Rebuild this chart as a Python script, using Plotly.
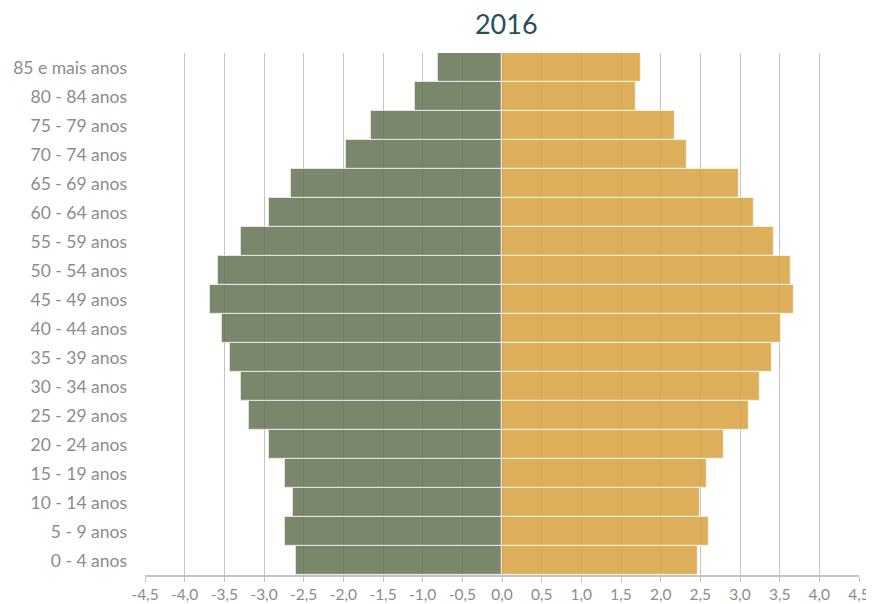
import plotly.graph_objects as go

age_groups = ["0 - 4 anos", "5 - 9 anos", "10 - 14 anos", "15 - 19 anos", "20 - 24 anos",
              "25 - 29 anos", "30 - 34 anos", "35 - 39 anos", "40 - 44 anos", "45 - 49 anos",
              "50 - 54 anos", "55 - 59 anos", "60 - 64 anos", "65 - 69 anos", "70 - 74 anos",
              "75 - 79 anos", "80 - 84 anos", "85 e mais anos"]
homens = [-2.60, -2.74, -2.63, -2.74, -2.94, -3.19, -3.29, -3.43, -3.53, -3.68,
          -3.58, -3.29, -2.94, -2.66, -1.97, -1.65, -1.10, -0.81]
mulheres = [2.47, 2.61, 2.50, 2.58, 2.80, 3.11, 3.25, 3.40, 3.52, 3.68,
            3.64, 3.43, 3.18, 2.99, 2.33, 2.18, 1.69, 1.75]
tick_vals = [-4.5, -4.0, -3.5, -3.0, -2.5, -2.0, -1.5, -1.0, -0.5, 0.0,
             0.5, 1.0, 1.5, 2.0, 2.5, 3.0, 3.5, 4.0, 4.5]
tick_text = ["-4,5", "-4,0", "-3,5", "-3,0", "-2,5", "-2,0", "-1,5", "-1,0", "-0,5", "0,0",
             "0,5", "1,0", "1,5", "2,0", "2,5", "3,0", "3,5", "4,0", "4,5"]

fig = go.Figure()
fig.add_trace(go.Bar(y=age_groups, x=homens, orientation="h", name="Homens",
                     marker=dict(color="rgba(100,114,82,0.85)",
                                 line=dict(color="rgba(255,255,255,0.6)", width=1.2))))
fig.add_trace(go.Bar(y=age_groups, x=mulheres, orientation="h", name="Mulheres",
                     marker=dict(color="rgba(215,161,61,0.85)",
                                 line=dict(color="rgba(255,255,255,0.6)", width=1.2))))

# page body has an 8px default margin, so margins are shifted by 8px
fig.update_layout(
    width=874, height=604,
    barmode="relative", bargap=0,
    showlegend=False,
    plot_bgcolor="white", paper_bgcolor="white",
    margin=dict(l=137, r=23, t=45, b=37, autoexpand=False),
    font=dict(family="Lato, sans-serif", color="#8c8c8c", size=16),
    title=dict(text="2016", xref="paper", x=0.506, xanchor="center",
               yref="container", y=0.972, yanchor="middle",
               font=dict(size=27, color="#25505b", family="Lato, sans-serif")),
)
fig.update_xaxes(range=[-4.5, 4.5], tickvals=tick_vals, ticktext=tick_text,
                 automargin=False,
                 showgrid=True, gridcolor="#c4c4c4", gridwidth=1.3,
                 zeroline=True, zerolinecolor="#a0a0a0", zerolinewidth=2,
                 showline=True, linecolor="#c4c4c4", linewidth=1.5,
                 ticks="outside", ticklen=5, tickcolor="#c4c4c4",
                 tickfont=dict(size=15.5, color="#8c8c8c"))
fig.update_yaxes(categoryorder="array", categoryarray=age_groups,
                 automargin=False,
                 showgrid=False, showline=False, ticks="",
                 ticklabelstandoff=17,
                 tickfont=dict(size=17.5, color="#8c8c8c"))

fig.write_html("out.html")
